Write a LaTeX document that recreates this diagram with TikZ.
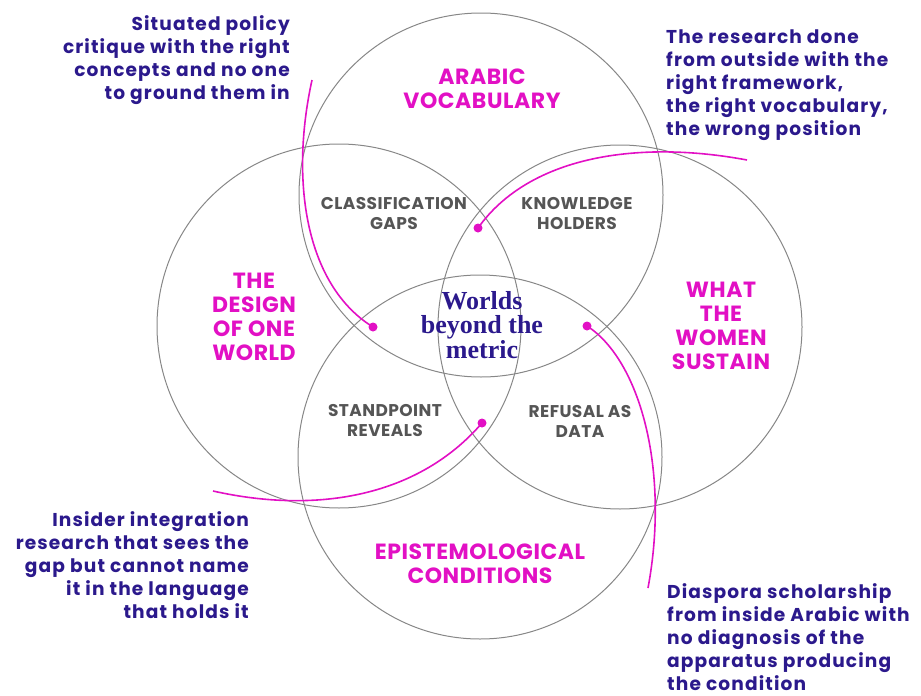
\documentclass[tikz,border=0pt]{standalone}
\usepackage{fontspec}
\usepackage{tikz}
\usetikzlibrary{positioning}
\setmainfont{Poppins}
\newfontfamily\notefont{Poppins}[LetterSpace=6]
\newfontfamily\capsfont{Poppins}[LetterSpace=2.5]
\newfontfamily\headfont{Liberation Serif}
\definecolor{ink}{RGB}{43,25,140}
\definecolor{hot}{RGB}{226,16,196}
\definecolor{slate}{RGB}{85,85,85}
\definecolor{rim}{RGB}{135,135,135}
\tikzstyle{ring}=[circle,draw=rim,line width=1pt,minimum size=364pt,inner sep=0pt]
\tikzstyle{field}=[text=hot,font=\capsfont\fontsize{22}{24}\selectfont\bfseries,align=center,inner sep=0pt]
\tikzstyle{overlap}=[text=slate,font=\capsfont\fontsize{17}{20}\selectfont\bfseries,align=center,inner sep=0pt]
\tikzstyle{note}=[text=ink,font=\notefont\fontsize{18.6}{23}\selectfont\bfseries,inner sep=0pt]
\tikzstyle{lead}=[draw=hot,line width=1.6pt]
\tikzstyle{tip}=[circle,fill=hot,inner sep=0pt,minimum size=9pt]

\begin{document}
\begin{tikzpicture}[x=1pt,y=-1pt]
  \useasboundingbox (0,0) rectangle (921,696);
  % the four worlds
  \foreach \name/\cx/\cy in {arabic/481/195,design/339/326,women/620/327,cond/480/457} {
    \node[ring] (\name) at (\cx,\cy) {};
  }
  \node[field] (arabicl) at (482,89) {ARABIC\\VOCABULARY};
  \node[field] (designl) at (254,317) {THE\\DESIGN\\OF ONE\\WORLD};
  \node[field] (womenl) at (721,326) {WHAT\\THE\\WOMEN\\SUSTAIN};
  \node[field] (condl) at (480,564) {EPISTEMOLOGICAL\\CONDITIONS};
  % pairwise overlaps
  \node[overlap] (gaps) at (394,214) {CLASSIFICATION\\GAPS};
  \node[overlap] (holders) at (577,214) {KNOWLEDGE\\HOLDERS};
  \node[overlap] (standpoint) at (385,421) {STANDPOINT\\REVEALS};
  \node[overlap] (refusal) at (580,421) {REFUSAL AS\\DATA};
  % centre
  \node[text=ink,font=\headfont\fontsize{26}{24.5}\selectfont\bfseries,align=center,inner sep=0pt]
    (title) at (482,325) {Worlds\\beyond the\\metric};
  % positions held from outside
  \node[note,align=right,anchor=north east] (policy) at (290,15)
    {Situated policy\\critique with the right\\concepts and no one\\to ground them in};
  \node[note,align=left,anchor=north west] (outside) at (666,30)
    {The research done\\from outside with the\\right framework,\\the right vocabulary,\\the wrong position};
  \node[note,align=right,anchor=north east] (insider) at (249,511)
    {Insider integration\\research that sees the\\gap but cannot name\\it in the language\\that holds it};
  \node[note,align=left,anchor=north west] (diaspora) at (667,583)
    {Diaspora scholarship\\from inside Arabic with\\no diagnosis of the\\apparatus producing\\the condition};
  % leader lines
  \node[tip] (p1) at (373,327) {};
  \node[tip] (p2) at (478,228) {};
  \node[tip] (p3) at (482,423) {};
  \node[tip] (p4) at (587,326) {};
  \coordinate (s1) at (312,80);
  \coordinate (s2) at (747,160);
  \coordinate (s3) at (213,491);
  \coordinate (s4) at (648,588);
  \draw[lead] (s1) .. controls (290,180) and (305,285) .. (p1.center);
  \draw[lead] (s2) .. controls (640,140) and (530,155) .. (p2.center);
  \draw[lead] (s3) .. controls (320,515) and (420,495) .. (p3.center);
  \draw[lead] (s4) .. controls (670,470) and (640,360) .. (p4.center);
\end{tikzpicture}
\end{document}
